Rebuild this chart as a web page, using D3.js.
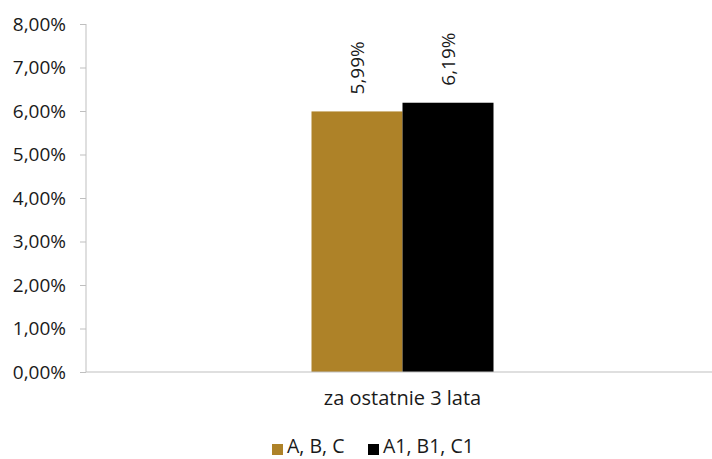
<!DOCTYPE html>
<html>
<head>
<meta charset="utf-8">
<script src="https://cdn.jsdelivr.net/npm/d3@7"></script>
<style>
  body{margin:0;background:#fff;}
  text{font-family:"Open Sans",sans-serif;fill:#1a1a1a;}
</style>
</head>
<body>
<div id="chart"></div>
<script>
/* Clustered column chart: two series, one category, percent axis 0-8%. */
var categories=["za ostatnie 3 lata"];
var seriesNames=["A, B, C","A1, B1, C1"];
var seriesValues=[[5.99],[6.19]];
var seriesColors=["#ae8228","#000000"];
var yTicks=[0,1,2,3,4,5,6,7,8];

var W=712,H=459;
var m={top:24,right:-7,bottom:87,left:86};
var width=W-m.left-m.right, height=H-m.top-m.bottom;
var fmt=function(v){return v.toFixed(2).replace(".",",")+"%";};

var svg=d3.select("#chart").append("svg").attr("width",W).attr("height",H);
var g=svg.append("g").attr("transform","translate("+m.left+","+m.top+")");

var x0=d3.scaleBand().domain(categories).range([0,width]).paddingInner(0).paddingOuter(0);
var x1=d3.scaleBand().domain(seriesNames).range([x0.bandwidth()/2-91,x0.bandwidth()/2+91]);
var y=d3.scaleLinear().domain([0,8]).range([height,0]);

var rows=[];
categories.forEach(function(c,ci){
    seriesNames.forEach(function(s,si){rows.push({cat:c,series:s,value:seriesValues[si][ci],color:seriesColors[si]});});
});

g.selectAll("rect.bar").data(rows).enter().append("rect").attr("class","bar")
    .attr("x",function(d){return x0(d.cat)+x1(d.series);})
    .attr("width",x1.bandwidth())
    .attr("y",function(d){return y(d.value);})
    .attr("height",function(d){return height-y(d.value);})
    .attr("fill",function(d){return d.color;});

g.selectAll("text.val").data(rows).enter().append("text").attr("class","val")
    .attr("transform",function(d){
        var cx=x0(d.cat)+x1(d.series)+x1.bandwidth()/2+7;
        return "translate("+cx+","+(y(d.value)-17)+") rotate(-90)";})
    .attr("font-size","19px")
    .text(function(d){return fmt(d.value);});

// y axis
var ya=g.append("g").call(d3.axisLeft(y).tickValues(yTicks).tickSize(6).tickPadding(14).tickFormat(fmt));
ya.select(".domain").attr("stroke","#bfbfbf").attr("d","M0,0V"+height);
ya.selectAll(".tick line").attr("stroke","#bfbfbf");
ya.selectAll(".tick text").attr("font-size","19px").attr("fill","#1a1a1a").attr("font-family","Open Sans, sans-serif");

// baseline
g.append("line").attr("x1",0).attr("x2",width).attr("y1",height).attr("y2",height).attr("stroke","#bfbfbf");

// category label
g.selectAll("text.cat").data(categories).enter().append("text").attr("class","cat")
    .attr("x",function(d){return x0(d)+x0.bandwidth()/2;}).attr("y",height+33)
    .attr("text-anchor","middle").attr("font-size","20px").text(function(d){return d;});

// legend
var lg=svg.append("g").attr("transform","translate(272,453)");
var offs=[0,96];
seriesNames.forEach(function(s,i){
    var it=lg.append("g").attr("transform","translate("+offs[i]+",0)");
    it.append("rect").attr("x",0).attr("y",-9).attr("width",11).attr("height",11).attr("fill",seriesColors[i]);
    it.append("text").attr("x",15).attr("y",0).attr("font-size","19.5px").text(s);
});
</script>
</body>
</html>
